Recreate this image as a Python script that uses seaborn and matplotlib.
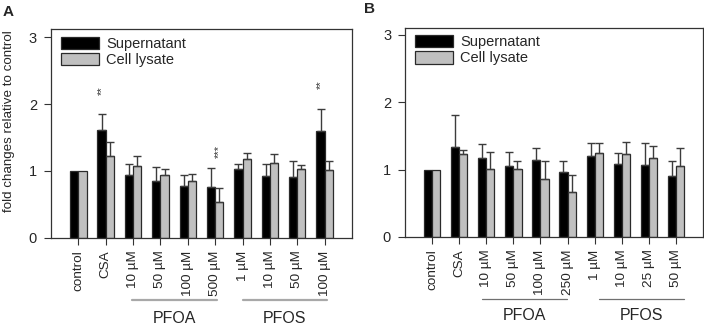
import matplotlib
matplotlib.use("Agg")
import matplotlib.pyplot as plt
import matplotlib.transforms as mtransforms
import numpy as np
import pandas as pd
import seaborn as sns

# categories (unique keys) and the tick labels shown under each panel
keys = ["control", "CSA", "PFOA a", "PFOA b", "PFOA c", "PFOA d",
        "PFOS a", "PFOS b", "PFOS c", "PFOS d"]
labels_a = ["control", "CSA", "10 µM", "50 µM", "100 µM", "500 µM",
            "1 µM", "10 µM", "50 µM", "100 µM"]
labels_b = ["control", "CSA", "10 µM", "50 µM", "100 µM", "250 µM",
            "1 µM", "10 µM", "25 µM", "50 µM"]
series = ["Supernatant", "Cell lysate"]

# panel A
sup_a = [1.0, 1.61, 0.94, 0.85, 0.78, 0.757, 1.036, 0.92, 0.906, 1.59]
sup_a_err = [0, 0.24, 0.16, 0.205, 0.16, 0.29, 0.07, 0.19, 0.245, 0.33]
lys_a = [1.0, 1.23, 1.075, 0.946, 0.857, 0.537, 1.175, 1.125, 1.036, 1.02]
lys_a_err = [0, 0.20, 0.145, 0.085, 0.10, 0.21, 0.095, 0.13, 0.055, 0.135]
stars_a = [(1, "Supernatant", "**", 2.14), (5, "Cell lysate", "***", 1.2),
           (9, "Supernatant", "**", 2.23)]

# panel B
sup_b = [1.0, 1.33, 1.17, 1.05, 1.14, 0.96, 1.20, 1.083, 1.073, 0.90]
sup_b_err = [0, 0.48, 0.21, 0.215, 0.185, 0.17, 0.20, 0.16, 0.32, 0.23]
lys_b = [1.0, 1.227, 1.01, 1.01, 0.856, 0.663, 1.25, 1.23, 1.17, 1.058]
lys_b_err = [0, 0.065, 0.255, 0.12, 0.275, 0.26, 0.15, 0.175, 0.175, 0.267]

colors = {"Supernatant": "#000000", "Cell lysate": "#c0c0c0"}
EDGE = "#2a2a2a"
ERR = "#3c3c3c"


def make_frame(sup, lys):
    return pd.DataFrame({
        "key": keys * 2,
        "series": ["Supernatant"] * len(keys) + ["Cell lysate"] * len(keys),
        "value": list(sup) + list(lys),
    })


def draw_panel(ax, sup, sup_err, lys, lys_err, tick_labels, ylim_top,
               group_lines, line_color, line_width):
    df = make_frame(sup, lys)
    sns.barplot(data=df, x="key", y="value", hue="series", order=keys,
                hue_order=series, palette=colors, errorbar=None, width=0.6,
                edgecolor=EDGE, linewidth=0.9, ax=ax)

    x = np.arange(len(keys))
    for off, vals, errs in [(-0.15, sup, sup_err), (0.15, lys, lys_err)]:
        vals = np.array(vals)
        errs = np.array(errs)
        m = errs > 0
        ax.errorbar(x[m] + off, vals[m], yerr=[np.zeros(m.sum()), errs[m]],
                    fmt="none", ecolor=ERR, elinewidth=1.0, capsize=3,
                    capthick=1.0, zorder=1)

    ax.set_xlim(-1, 10)
    ax.set_ylim(0, ylim_top)
    ax.set_yticks([0, 1, 2, 3])
    ax.set_xticks(x)
    ax.set_xticklabels(tick_labels, rotation=90, fontsize=9.7)
    ax.tick_params(axis="y", labelsize=10.5, length=5, width=0.8,
                   color="#333333", pad=5)
    ax.tick_params(axis="x", length=5, width=0.8, color="#333333", pad=4)
    ax.set_xlabel("")
    ax.set_ylabel("")
    for s in ax.spines.values():
        s.set_visible(True)
        s.set_color("#333333")
        s.set_linewidth(0.9)

    handles, _ = ax.get_legend_handles_labels()
    ax.legend(handles, series, loc="upper left",
              bbox_to_anchor=(0.033, 0.965), frameon=False, fontsize=10.5,
              handlelength=2.6, handleheight=0.95, labelspacing=0.12,
              handletextpad=0.5, borderpad=0, borderaxespad=0)

    trans = mtransforms.blended_transform_factory(ax.transData, ax.transAxes)
    for name, x0, x1, ly, ty in group_lines:
        ax.plot([x0, x1], [ly, ly], color=line_color, lw=line_width,
                transform=trans, clip_on=False)
        ax.text((x0 + x1) / 2, ty, name, transform=trans, ha="center",
                va="center", fontsize=11.5)


fig = plt.figure(figsize=(7.04, 3.33), dpi=100)
sns.set_style("ticks")
plt.rcParams["font.family"] = ["Liberation Sans", "DejaVu Sans"]

ax_a = fig.add_axes([0.0724, 0.2853, 0.4276, 0.6267])
ax_b = fig.add_axes([0.5753, 0.2883, 0.4233, 0.6290])

draw_panel(ax_a, sup_a, sup_a_err, lys_a, lys_a_err, labels_a, 3.115,
           [("PFOA", 1.95, 5.05, -0.297, -0.385),
            ("PFOS", 6.0, 9.09, -0.297, -0.385)],
           "#a8a8a8", 1.6)
draw_panel(ax_b, sup_b, sup_b_err, lys_b, lys_b_err, labels_b, 3.104,
           [("PFOA", 1.83, 4.98, -0.297, -0.375),
            ("PFOS", 6.17, 9.3, -0.297, -0.375)],
           "#707070", 0.9)

for gi, ser, txt, y in stars_a:
    off = -0.15 if ser == "Supernatant" else 0.15
    ax_a.text(gi + off, y, txt, rotation=90, ha="center", va="bottom",
              fontsize=8, color="#333333")

ax_a.set_ylabel("fold changes relative to control", fontsize=9.6)
ax_a.yaxis.set_label_coords(-0.12, 0.558)

fig.text(8 / 704, 1 - 12.5 / 333, "A", fontsize=11, fontweight="bold",
         ha="center", va="center")
fig.text(370 / 704, 1 - 9 / 333, "B", fontsize=11, fontweight="bold",
         ha="center", va="center")

fig.savefig("out.png", dpi=100)
